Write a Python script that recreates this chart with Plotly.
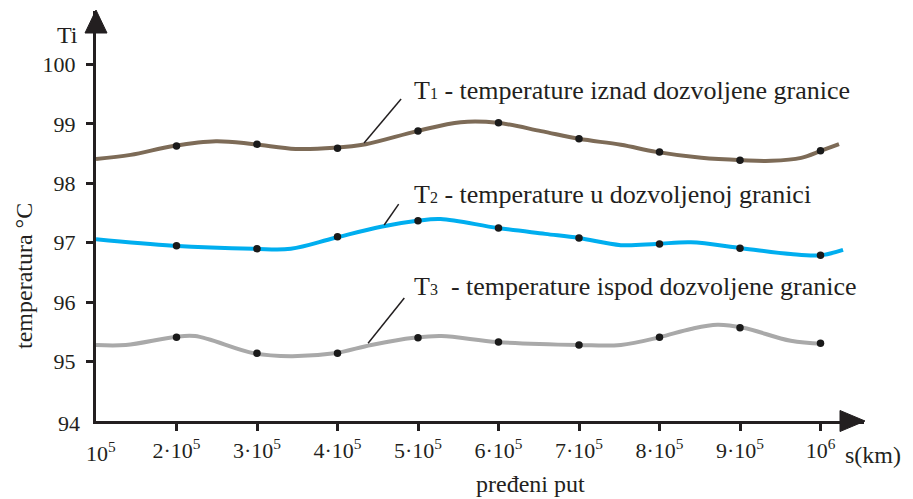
import plotly.graph_objects as go

# ---------------- data ----------------
# distance travelled s (km) and temperatures (°C)
dot_s = [2e5, 3e5, 4e5, 5e5, 6e5, 7e5, 8e5, 9e5, 10e5]
t1_dots = [98.63, 98.66, 98.59, 98.88, 99.02, 98.75, 98.53, 98.39, 98.55]
t2_dots = [96.95, 96.90, 97.10, 97.37, 97.25, 97.08, 96.98, 96.91, 96.79]
t3_dots = [95.41, 95.14, 95.14, 95.40, 95.33, 95.28, 95.41, 95.57, 95.31]

t1_s = [1.0e5, 1.43e5, 1.96e5, 2.49e5, 2.96e5, 3.48e5, 3.96e5, 4.35e5, 4.99e5, 5.53e5,
        5.99e5, 6.53e5, 7.0e5, 7.52e5, 7.96e5, 8.52e5, 9.03e5, 9.39e5, 9.76e5, 10.01e5, 10.23e5]
t1_curve = [98.41, 98.48, 98.63, 98.71, 98.66, 98.58, 98.60, 98.66, 98.88, 99.03,
            99.02, 98.88, 98.75, 98.65, 98.53, 98.43, 98.39, 98.38, 98.43, 98.55, 98.66]

t2_s = [1.0e5, 1.96e5, 2.96e5, 3.42e5, 3.96e5, 4.54e5, 4.99e5, 5.28e5, 5.99e5, 6.58e5,
        7.0e5, 7.52e5, 7.96e5, 8.39e5, 9.02e5, 9.63e5, 10.0e5, 10.28e5]
t2_curve = [97.06, 96.95, 96.90, 96.90, 97.08, 97.27, 97.37, 97.40, 97.25, 97.15,
            97.08, 96.96, 96.98, 97.01, 96.91, 96.81, 96.79, 96.88]

t3_s = [1.0e5, 1.37e5, 1.96e5, 2.23e5, 2.96e5, 3.42e5, 3.96e5, 4.42e5, 4.95e5, 5.29e5,
        5.99e5, 7.0e5, 7.52e5, 8.0e5, 8.39e5, 8.72e5, 9.04e5, 9.63e5, 10.02e5]
t3_curve = [95.28, 95.28, 95.41, 95.43, 95.14, 95.09, 95.14, 95.28, 95.40, 95.43,
            95.33, 95.28, 95.28, 95.41, 95.55, 95.62, 95.57, 95.35, 95.30]

x_ticks = [2e5, 3e5, 4e5, 5e5, 6e5, 7e5, 8e5, 9e5, 10e5]
x_ticktext = ["2·10<sup>5</sup>", "3·10<sup>5</sup>", "4·10<sup>5</sup>", "5·10<sup>5</sup>",
              "6·10<sup>5</sup>", "7·10<sup>5</sup>", "8·10<sup>5</sup>", "9·10<sup>5</sup>",
              "10<sup>6</sup>"]
y_ticks = [95, 96, 97, 98, 99, 100]

labels = ["T<span style='font-size:16px'>1</span> - temperature iznad dozvoljene granice",
          "T<span style='font-size:16px'>2</span> - temperature u dozvoljenoj granici",
          "T<span style='font-size:16px'>3</span>  - temperature ispod dozvoljene granice"]

# ---------------- styling ----------------
FONT = "Liberation Serif"
INK = "#231f20"
C1, C2, C3 = "#7d6b57", "#00aeef", "#a9a9a9"

X0, X1 = 1e5, 10.5404e5
Y0, Y1 = 94.0, 100.902
W, H = 913, 499
L, R, T, B = 96, 49, 11, 78
PW, PH = W - L - R, H - T - B


def px(xp):
    return (xp - L) / PW


def py(yp):
    return (H - B - yp) / PH


fig = go.Figure()
for s, v, c in [(t1_s, t1_curve, C1), (t2_s, t2_curve, C2), (t3_s, t3_curve, C3)]:
    fig.add_trace(go.Scatter(x=s, y=v, mode="lines",
                             line=dict(color=c, width=4, shape="spline", smoothing=1.0),
                             hoverinfo="skip", showlegend=False))
for v in [t1_dots, t2_dots, t3_dots]:
    fig.add_trace(go.Scatter(x=dot_s, y=v, mode="markers",
                             marker=dict(color="#1a1a1a", size=7.5),
                             showlegend=False))

# leader lines from labels to curves
leaders = [((4.33e5, 98.68), (4.79e5, 99.42)),
           ((4.58e5, 97.30), (4.76e5, 97.65)),
           ((4.38e5, 95.31), (4.83e5, 96.07))]
for (xa, ya), (xb, yb) in leaders:
    fig.add_shape(type="line", x0=xa, y0=ya, x1=xb, y1=yb, xref="x", yref="y",
                  line=dict(color=INK, width=1.5))

label_y = [99.556, 97.82, 96.27]
for txt, yy in zip(labels, label_y):
    fig.add_annotation(x=4.93e5, y=yy, xref="x", yref="y", text=txt, showarrow=False,
                       xanchor="left", yanchor="middle",
                       font=dict(family=FONT, size=26, color=INK))

# axis arrow heads
fig.add_shape(type="path", xref="paper", yref="paper",
              path=f"M {px(85)} {py(33)} L {px(96)} {py(10)} L {px(107)} {py(33)} Z",
              fillcolor=INK, line=dict(color=INK, width=1))
fig.add_shape(type="path", xref="paper", yref="paper",
              path=f"M {px(840)} {py(410.5)} L {px(865)} {py(421)} L {px(840)} {py(431.5)} Z",
              fillcolor=INK, line=dict(color=INK, width=1))

# axis texts
txt_font = dict(family=FONT, size=24, color=INK)
tick_font = dict(family=FONT, size=22, color=INK)


def note(x, y, text, font, xanchor="center", **kw):
    fig.add_annotation(x=px(x), y=py(y), xref="paper", yref="paper", text=text,
                       showarrow=False, xanchor=xanchor, yanchor="middle", font=font, **kw)


note(67, 35, "Ti", txt_font)
note(24, 276, "temperatura °C", txt_font, textangle=-90)
note(873, 455, "s(km)", txt_font)
note(530, 484, "pređeni put", txt_font)
note(82, 423, "94", tick_font, xanchor="right")
note(101, 452, "10<sup>5</sup>", tick_font)

fig.update_xaxes(range=[X0, X1], showgrid=False, zeroline=False, showline=True,
                 linecolor=INK, linewidth=3, ticks="outside", ticklen=7, tickwidth=3,
                 tickcolor=INK, tickvals=x_ticks, ticktext=x_ticktext,
                 tickfont=tick_font, ticklabelstandoff=1)
fig.update_yaxes(range=[Y0, Y1], showgrid=False, zeroline=False, showline=True,
                 linecolor=INK, linewidth=3, ticks="outside", ticklen=7, tickwidth=3,
                 tickcolor=INK, tickvals=y_ticks,
                 tickfont=tick_font, ticklabelstandoff=6)

fig.update_layout(width=W, height=H, margin=dict(l=L, r=R, t=T, b=B),
                  plot_bgcolor="white", paper_bgcolor="white", showlegend=False)

fig.write_html("out.html")
